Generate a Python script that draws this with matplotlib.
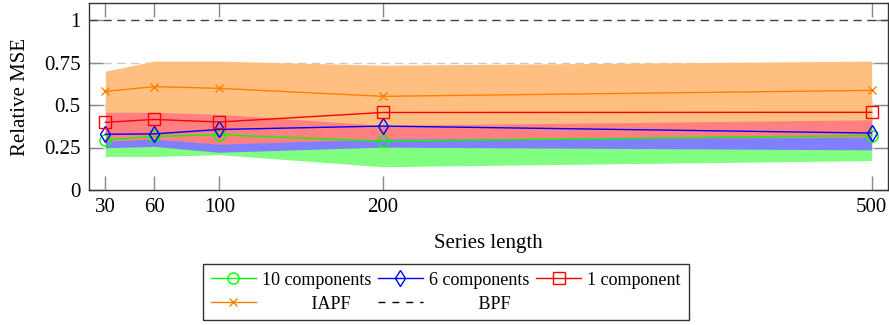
import matplotlib
matplotlib.use("Agg")
import matplotlib.pyplot as plt
from matplotlib.lines import Line2D

plt.rcParams['font.family'] = ['Liberation Serif', 'DejaVu Serif']
plt.rcParams['mathtext.fontset'] = 'stix'

# ---- data ----
lengths = [30, 60, 100, 200, 500]

mse_10 = [0.295, 0.315, 0.325, 0.287, 0.320]
lo_10 = [0.197, 0.197, 0.208, 0.137, 0.173]
hi_10 = [0.38, 0.40, 0.40, 0.38, 0.39]

mse_6 = [0.328, 0.330, 0.356, 0.376, 0.335]
lo_6 = [0.248, 0.256, 0.222, 0.252, 0.236]
hi_6 = [0.42, 0.42, 0.44, 0.45, 0.42]

mse_1 = [0.398, 0.415, 0.400, 0.456, 0.457]
lo_1 = [0.287, 0.300, 0.270, 0.300, 0.310]
hi_1 = [0.50, 0.52, 0.50, 0.55, 0.53]

mse_iapf = [0.580, 0.608, 0.598, 0.551, 0.586]
lo_iapf = [0.457, 0.457, 0.445, 0.380, 0.413]
hi_iapf = [0.699, 0.758, 0.758, 0.734, 0.758]

bpf_value = 1.0

xticks = [30, 60, 100, 200, 500]
yticks = [0, 0.25, 0.5, 0.75, 1]
yticklabels = ['0', '0.25', '0.5', '0.75', '1']

# ---- figure ----
fig = plt.figure(figsize=(8.89, 3.25), dpi=100)
ax = fig.add_axes([89/889, 1-190/325, (888-89)/889, (190-3)/325])
ax.set_xlim(20, 510)
ax.set_ylim(0, 1.1)

# grid
for yv in yticks[1:-1]:
    ax.axhline(yv, color='#c8c8c8', lw=1.0, ls=(0, (6, 4)), zorder=0.5)

# fills in drawing order
ax.fill_between(lengths, lo_10, hi_10, color='#80ff80', lw=0, zorder=1)
ax.fill_between(lengths, lo_6, hi_6, color='#8080ff', lw=0, zorder=1.1)
ax.fill_between(lengths, lo_1, hi_1, color='#ff8080', lw=0, zorder=1.2)
ax.fill_between(lengths, lo_iapf, hi_iapf, color='#ffbf80', lw=0, zorder=1.3)

lw = 1.0
l10, = ax.plot(lengths, mse_10, color='#00ff00', lw=lw, marker='o', ms=8,
               mfc='none', mec='#00ff00', mew=1.0, zorder=3)
l6, = ax.plot(lengths, mse_6, color='#0000ff', lw=lw, marker='d', ms=8,
              mfc='none', mec='#0000ff', mew=1.0, zorder=3.1)
l1, = ax.plot(lengths, mse_1, color='#ff0000', lw=lw, marker='s', ms=8,
              mfc='none', mec='#ff0000', mew=1.0, zorder=3.2)
li, = ax.plot(lengths, mse_iapf, color='#ff8000', lw=lw, marker='x', ms=6,
              mec='#ff8000', mew=1.0, zorder=3.3)
lb = ax.axhline(bpf_value, color='#404040', lw=1.0, ls=(0, (6, 4)), zorder=3)

ax.set_xticks(xticks)
ax.set_xticklabels([str(v) for v in xticks])
ax.set_yticks(yticks)
ax.set_yticklabels(yticklabels)
ax.tick_params(direction='in', length=10, width=1.0, color='#888888',
               labelsize=15, top=True, right=True, pad=6)
for s in ax.spines.values():
    s.set_color('#333333')
    s.set_linewidth(1.0)

ax.set_xlabel('Series length', fontsize=15, labelpad=12)
ax.set_ylabel('Relative MSE', fontsize=15, labelpad=10)

bpf_handle = Line2D([], [], color='black', lw=1.0, ls=(0, (5, 5)))
handles = [l10, li, l6, bpf_handle, l1]
labels = ['10 components', '           IAPF', '6 components', '           BPF', '1 component']
leg = fig.legend(handles, labels, ncol=3, loc='upper center',
                 bbox_to_anchor=(0.5015, 1-264/325), fontsize=13,
                 frameon=True, fancybox=False, edgecolor='black',
                 handlelength=2.5, columnspacing=0.35, handletextpad=0.35,
                 labelspacing=0.4, borderpad=0.42, borderaxespad=0)
leg.get_frame().set_linewidth(1.0)

fig.savefig('out.png', dpi=100)
